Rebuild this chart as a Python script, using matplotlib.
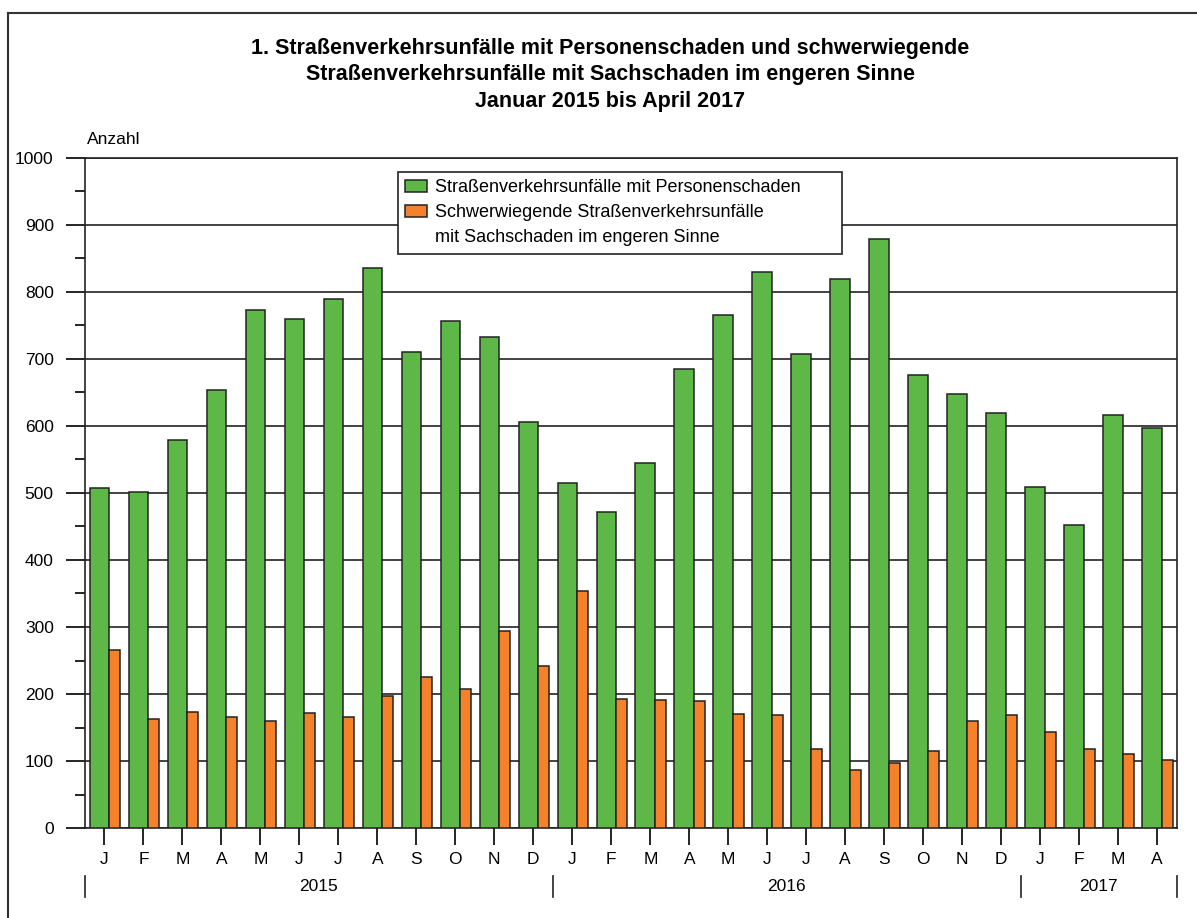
import matplotlib.pyplot as plt
from matplotlib.patches import Patch
from matplotlib.lines import Line2D

plt.rcParams['font.family'] = ['Liberation Sans', 'DejaVu Sans']

# Daten (Januar 2015 bis April 2017)
monate = ['J', 'F', 'M', 'A', 'M', 'J', 'J', 'A', 'S', 'O', 'N', 'D',
          'J', 'F', 'M', 'A', 'M', 'J', 'J', 'A', 'S', 'O', 'N', 'D',
          'J', 'F', 'M', 'A']
jahre = ['2015', '2016', '2017']
jahr_grenzen = [0, 12, 24, 28]

personenschaden = [508, 501, 579, 653, 773, 759, 790, 836, 710, 756, 733, 606,
                   515, 472, 545, 685, 766, 829, 707, 819, 879, 676, 648, 619,
                   509, 452, 616, 597]
sachschaden = [266, 162, 173, 165, 159, 171, 165, 197, 225, 208, 294, 242,
               354, 193, 191, 190, 170, 168, 118, 87, 97, 115, 159, 168,
               144, 118, 110, 101]

gruen = '#5EB847'
orange = '#F5822A'

fig = plt.figure(figsize=(11.97, 9.18), dpi=100)
ax = fig.add_axes([0.071, 0.098, 0.912, 0.730])

x = list(range(len(monate)))
ax.bar([i + 0.12 for i in x], personenschaden, width=0.50, align='edge',
       color=gruen, edgecolor='#222222', linewidth=1.1, zorder=3)
ax.bar([i + 0.62 for i in x], sachschaden, width=0.28, align='edge',
       color=orange, edgecolor='#222222', linewidth=1.1, zorder=3)

ax.set_xlim(0, len(monate))
ax.set_ylim(0, 1000)

# y-Achse
ax.set_yticks(range(0, 1001, 100))
ax.set_yticks(range(50, 1000, 100), minor=True)
ax.tick_params(axis='y', which='major', length=13.5, width=1.2, labelsize=12.5, pad=9)
ax.tick_params(axis='y', which='minor', length=7, width=1.2)
ax.yaxis.grid(True, which='major', color='#222222', linewidth=1.2, zorder=0)
ax.set_axisbelow(True)

# x-Achse: Monate
ax.set_xticks([i + 0.5 for i in x])
ax.set_xticklabels(monate)
ax.tick_params(axis='x', length=12, width=1.2, labelsize=12.5, pad=5)

for s in ax.spines.values():
    s.set_color('#222222')
    s.set_linewidth(1.2)

# Jahreszeile unter den Monaten
tr = ax.get_xaxis_transform()
for g in jahr_grenzen:
    ax.add_line(Line2D([g, g], [-0.0716, -0.103], transform=tr, color='#222222',
                       linewidth=1.2, clip_on=False))
for j, jahr in enumerate(jahre):
    mitte = (jahr_grenzen[j] + jahr_grenzen[j + 1]) / 2
    ax.text(mitte, -0.087, jahr, transform=tr, ha='center', va='center', fontsize=12.5)

ax.text(0.002, 1.017, 'Anzahl', transform=ax.transAxes, ha='left', va='bottom', fontsize=12.5)

# Legende
handles = [Patch(facecolor=gruen, edgecolor='#222222', linewidth=1.1),
           Patch(facecolor=orange, edgecolor='#222222', linewidth=1.1),
           Patch(facecolor='none', edgecolor='none')]
labels = ['Straßenverkehrsunfälle mit Personenschaden',
          'Schwerwiegende Straßenverkehrsunfälle',
          'mit Sachschaden im engeren Sinne']
leg = ax.legend(handles, labels, loc='upper left',
                bbox_to_anchor=(0.2866, 0.979 - 0.117, 0.407, 0.117), mode='expand',
                fontsize=13, frameon=True, fancybox=False, framealpha=1,
                edgecolor='#222222', handlelength=1.2, handleheight=0.7,
                handletextpad=0.45, labelspacing=0.45, borderpad=0.4,
                borderaxespad=0)
leg.get_frame().set_linewidth(1.2)
leg.set_zorder(5)

# Titel
fig.text(0.51, 0.9185,
         '1. Straßenverkehrsunfälle mit Personenschaden und schwerwiegende\n'
         'Straßenverkehrsunfälle mit Sachschaden im engeren Sinne\n'
         'Januar 2015 bis April 2017',
         ha='center', va='center', fontsize=15.5, fontweight='bold', linespacing=1.33)

# Rahmen oben und links
fig.add_artist(Line2D([0.007, 0.007], [0, 0.986], transform=fig.transFigure,
                      color='#333333', linewidth=1.5))
fig.add_artist(Line2D([0.007, 1.0], [0.986, 0.986], transform=fig.transFigure,
                      color='#333333', linewidth=1.5))

plt.savefig('out.png', dpi=100)
